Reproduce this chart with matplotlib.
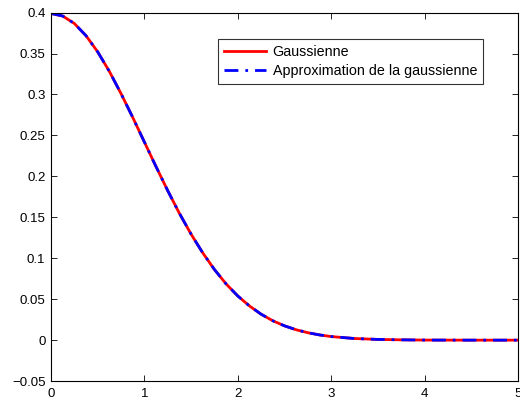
import matplotlib.pyplot as plt

plt.rcParams['font.family'] = ['Liberation Sans', 'DejaVu Sans']

# values
x_vals = [0, 0.125, 0.25, 0.375, 0.5, 0.625, 0.75, 0.875, 1.0, 1.125, 1.25, 1.375, 1.5,
          1.625, 1.75, 1.875, 2.0, 2.125, 2.25, 2.375, 2.5, 2.625, 2.75, 2.875, 3.0,
          3.25, 3.5, 3.75, 4.0, 4.5, 5.0]
gauss = [0.3989, 0.3958, 0.3867, 0.3718, 0.3521, 0.3282, 0.3011, 0.2721, 0.2420, 0.2119,
         0.1826, 0.1549, 0.1295, 0.1066, 0.0863, 0.0687, 0.0540, 0.0418, 0.0317, 0.0237,
         0.0175, 0.0127, 0.0091, 0.0064, 0.0044, 0.0020, 0.0009, 0.0004, 0.0001, 0.0000, 0.0000]
approx = [0.3989, 0.3958, 0.3867, 0.3718, 0.3521, 0.3282, 0.3011, 0.2721, 0.2420, 0.2119,
          0.1826, 0.1549, 0.1295, 0.1066, 0.0863, 0.0687, 0.0540, 0.0418, 0.0317, 0.0237,
          0.0175, 0.0127, 0.0091, 0.0064, 0.0044, 0.0020, 0.0009, 0.0004, 0.0001, 0.0000, 0.0000]
x_ticks = [0, 1, 2, 3, 4, 5]
y_ticks = [-0.05, 0, 0.05, 0.1, 0.15, 0.2, 0.25, 0.3, 0.35, 0.4]
y_labels = ['\u22120.05', '0', '0.05', '0.1', '0.15', '0.2', '0.25', '0.3', '0.35', '0.4']

fig = plt.figure(figsize=(5.2, 4.05), dpi=100)
ax = fig.add_axes([0.098, 0.059, 0.898, 0.910])

ax.plot(x_vals, gauss, color='red', lw=2, label='Gaussienne')
ax.plot(x_vals, approx, color='blue', lw=2, linestyle=(0, (5, 2.5, 1, 2.5)),
        label='Approximation de la gaussienne')

ax.set_xlim(0, 5)
ax.set_ylim(-0.05, 0.4)
ax.set_xticks(x_ticks)
ax.set_yticks(y_ticks)
ax.set_yticklabels(y_labels)
ax.tick_params(direction='in', length=4, labelsize=9.5, top=True, right=True,
               width=0.6, pad=4)
ax.tick_params(axis='x', pad=5)
for s in ax.spines.values():
    s.set_linewidth(0.8)

leg = ax.legend(loc='upper right', bbox_to_anchor=(0.925, 0.927), fontsize=10.3,
                frameon=True, fancybox=False, handlelength=2.9, borderpad=0.4,
                labelspacing=0.35, handletextpad=0.5, borderaxespad=0)
leg.get_frame().set_edgecolor('black')
leg.get_frame().set_linewidth(0.8)

fig.savefig('out.png', dpi=100)
